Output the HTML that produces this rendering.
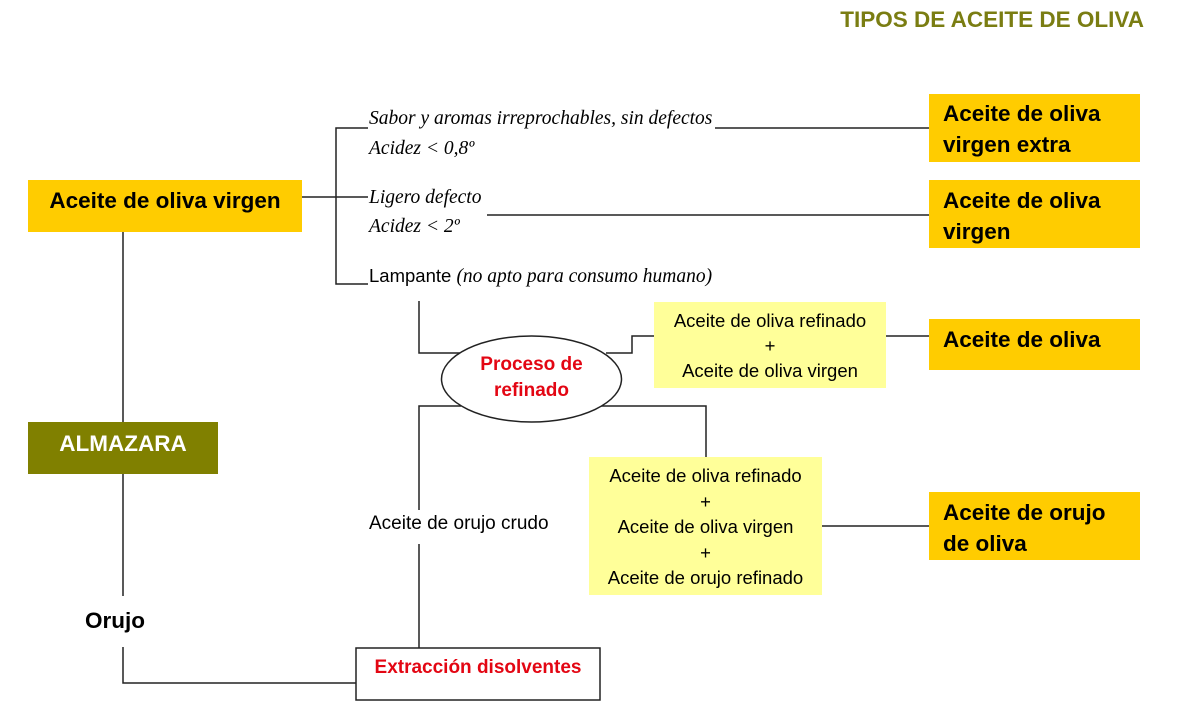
<!DOCTYPE html>
<html><head><meta charset="utf-8"><style>
body{margin:0;width:1200px;height:708px;background:#fff;position:relative;overflow:hidden;font-family:"Liberation Sans",sans-serif}
.a{position:absolute;white-space:nowrap}
.o{position:absolute;background:#ffcc00;font-weight:bold;font-size:22.5px;color:#000;box-sizing:border-box;white-space:nowrap}
.y{position:absolute;background:#ffff99;font-size:18.5px;text-align:center;color:#000;white-space:nowrap}
.i{font-family:"Liberation Serif",serif;font-style:italic;font-size:19.5px}
</style></head><body>
<svg width="1200" height="708" style="position:absolute;left:0;top:0" fill="none" stroke="#222" stroke-width="1.5">
<path d="M302 197H368M368 128H336V284H368"/>
<path d="M715 128H930M487 215H930"/>
<path d="M123 232V422M123 474V596M123 647V683H356"/>
<path d="M419 301V353H463M606 353H632V336H654M886 336H930"/>
<path d="M461 406H419V510M419 544V648M600 406H706V457M822 526H930"/>
<ellipse cx="531.5" cy="379" rx="90" ry="43" fill="#fff"/>
<rect x="356" y="648" width="244" height="52" fill="#fff"/>
</svg>
<div class="a" style="right:56px;top:7px;font-size:22.5px;font-weight:bold;color:#7a7d12">TIPOS DE ACEITE DE OLIVA</div>
<div class="o" style="left:28px;top:180px;width:274px;height:52px;text-align:center;line-height:42px">Aceite de oliva virgen</div>
<div class="o" style="left:929px;top:94px;width:211px;height:68px;padding:4px 0 0 14px;line-height:31px">Aceite de oliva<br>virgen extra</div>
<div class="o" style="left:929px;top:180px;width:211px;height:68px;padding:5px 0 0 14px;line-height:31px">Aceite de oliva<br>virgen</div>
<div class="o" style="left:929px;top:319px;width:211px;height:51px;padding:5px 0 0 14px;line-height:31px">Aceite de oliva</div>
<div class="o" style="left:929px;top:492px;width:211px;height:68px;padding:5px 0 0 14px;line-height:31px">Aceite de orujo<br>de oliva</div>
<div class="a" style="left:28px;top:422px;width:190px;height:52px;background:#808000;color:#fff;font-weight:bold;font-size:22.5px;text-align:center;line-height:44px">ALMAZARA</div>
<div class="a i" style="left:369px;top:108px">Sabor y aromas irreprochables, sin defectos</div>
<div class="a i" style="left:369px;top:138px">Acidez &lt; 0,8º</div>
<div class="a i" style="left:369px;top:187px">Ligero defecto</div>
<div class="a i" style="left:369px;top:216px">Acidez &lt; 2º</div>
<div class="a" style="left:369px;top:265px;font-size:18.5px">Lampante <span class="i">(no apto para consumo humano)</span></div>
<div class="y" style="left:654px;top:302px;width:232px;height:86px;line-height:25px;padding-top:6px;box-sizing:border-box">Aceite de oliva refinado<br>+<br>Aceite de oliva virgen</div>
<div class="y" style="left:589px;top:457px;width:233px;height:138px;line-height:25.5px;padding-top:6px;box-sizing:border-box">Aceite de oliva refinado<br>+<br>Aceite de oliva virgen<br>+<br>Aceite de orujo refinado</div>
<div class="a" style="left:441px;top:352px;width:181px;text-align:center;color:#e30613;font-weight:bold;font-size:19px;line-height:26px">Proceso de<br>refinado</div>
<div class="a" style="left:369px;top:513px;font-size:19px">Aceite de orujo crudo</div>
<div class="a" style="left:356px;top:657px;width:244px;text-align:center;color:#e30613;font-weight:bold;font-size:19px">Extracción disolventes</div>
<div class="a" style="left:85px;top:608px;font-weight:bold;font-size:22.5px">Orujo</div>
</body></html>
